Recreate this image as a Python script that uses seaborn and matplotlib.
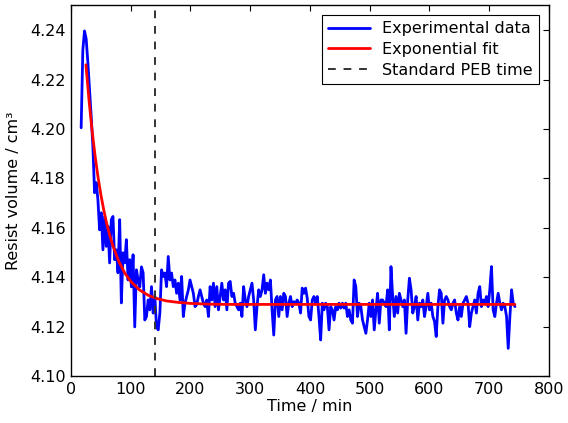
import numpy as np
import pandas as pd
import matplotlib
matplotlib.use("Agg")
import matplotlib.pyplot as plt
import seaborn as sns

# ---- data ----
time_start = 17.0
time_end = 743.0
volume = [
    # 17 -> ~120 min
    4.2005, 4.2320, 4.2397, 4.2365, 4.2270, 4.2160, 4.2050, 4.1930, 4.1742, 4.1783,
    4.1714, 4.1592, 4.1661, 4.1511, 4.1646, 4.1525, 4.1606, 4.1458, 4.1633, 4.1646,
    4.1471, 4.1511, 4.1418, 4.1633, 4.1296, 4.1499, 4.1458, 4.1552, 4.1389, 4.1471,
    4.1361, 4.1491, 4.1199, 4.1430, 4.1389, 4.1361, 4.1442, 4.1418,
    # ~123 -> ~227 min
    4.1227, 4.1241, 4.1308, 4.1268, 4.1362, 4.1255, 4.1322, 4.1200, 4.1187, 4.1255,
    4.1430, 4.1403, 4.1417, 4.1362, 4.1484, 4.1389, 4.1417, 4.1362, 4.1389, 4.1335,
    4.1376, 4.1308, 4.1403, 4.1241, 4.1295, 4.1322, 4.1349, 4.1389, 4.1362, 4.1335,
    4.1281, 4.1290, 4.1322, 4.1349, 4.1322, 4.1295, 4.1281, 4.1308,
    # ~230 -> ~345 min
    4.1241, 4.1362, 4.1308, 4.1376, 4.1281, 4.1362, 4.1268, 4.1322, 4.1376, 4.1308,
    4.1349, 4.1268, 4.1376, 4.1383, 4.1322, 4.1335, 4.1295, 4.1281, 4.1268, 4.1295,
    4.1241, 4.1362, 4.1308, 4.1281, 4.1322, 4.1349, 4.1376, 4.1308, 4.1187, 4.1281,
    4.1349, 4.1322, 4.1349, 4.1410, 4.1335, 4.1376, 4.1349, 4.1389, 4.1268, 4.1166,
    4.1308, 4.1322,
    # ~347 -> ~454 min
    4.1241, 4.1322, 4.1268, 4.1335, 4.1322, 4.1241, 4.1295, 4.1322, 4.1281, 4.1301,
    4.1295, 4.1308, 4.1295, 4.1255, 4.1356, 4.1335, 4.1356, 4.1315, 4.1241, 4.1227,
    4.1308, 4.1322, 4.1295, 4.1322, 4.1241, 4.1146, 4.1295, 4.1268, 4.1295, 4.1281,
    4.1187, 4.1281, 4.1268, 4.1227, 4.1281, 4.1268, 4.1295, 4.1275, 4.1295,
    # ~457 -> ~559 min
    4.1275, 4.1295, 4.1241, 4.1268, 4.1227, 4.1214, 4.1389, 4.1362, 4.1241, 4.1295,
    4.1281, 4.1227, 4.1200, 4.1173, 4.1227, 4.1295, 4.1241, 4.1308, 4.1187, 4.1268,
    4.1335, 4.1214, 4.1308, 4.1308, 4.1295, 4.1281, 4.1349, 4.1187, 4.1443, 4.1322,
    4.1241, 4.1322, 4.1255, 4.1335, 4.1308, 4.1281, 4.1308,
    # ~562 -> ~659 min
    4.1173, 4.1308, 4.1396, 4.1349, 4.1255, 4.1281, 4.1322, 4.1227, 4.1295, 4.1281,
    4.1308, 4.1241, 4.1281, 4.1335, 4.1268, 4.1295, 4.1241, 4.1221, 4.1160, 4.1281,
    4.1349, 4.1335, 4.1214, 4.1308, 4.1322, 4.1308, 4.1281, 4.1268, 4.1295, 4.1308,
    4.1255, 4.1227, 4.1281, 4.1241, 4.1295, 4.1308,
    # ~662 -> 743 min
    4.1322, 4.1295, 4.1200, 4.1255, 4.1281, 4.1308, 4.1255, 4.1335, 4.1362, 4.1281,
    4.1308, 4.1295, 4.1322, 4.1281, 4.1349, 4.1443, 4.1268, 4.1241, 4.1295, 4.1335,
    4.1295, 4.1268, 4.1295, 4.1281, 4.1241, 4.1112, 4.1241, 4.1349, 4.1295, 4.1281,
]

fit_time = [25, 30, 35, 40, 45, 50, 55, 60, 65, 70, 80, 90, 100, 115, 130, 145, 160,
            180, 200, 230, 270, 350, 450, 550, 650, 743]
fit_volume = [4.2260, 4.2120, 4.2000, 4.1897, 4.1809, 4.1734, 4.1670, 4.1615, 4.1568,
              4.1528, 4.1464, 4.1417, 4.1383, 4.1348, 4.1326, 4.1313, 4.1304,
              4.1298, 4.1294, 4.1291, 4.1290, 4.1290, 4.1290, 4.1290, 4.1290, 4.1290]

peb_time = 140

x_ticks = [0, 100, 200, 300, 400, 500, 600, 700, 800]
y_ticks = [4.10, 4.12, 4.14, 4.16, 4.18, 4.20, 4.22, 4.24]

# ---- plotting ----
sns.set_theme(style="white")
plt.rcParams["font.family"] = ["DejaVu Sans"]
plt.rcParams.update({
    "xtick.direction": "in", "ytick.direction": "in",
    "xtick.top": True, "ytick.right": True,
    "xtick.major.size": 4, "ytick.major.size": 4,
    "xtick.major.width": 0.8, "ytick.major.width": 0.8,
    "xtick.color": "black", "ytick.color": "black",
    "xtick.labelcolor": "black", "ytick.labelcolor": "black",
    "text.color": "black", "axes.labelcolor": "black",
    "axes.edgecolor": "black", "axes.linewidth": 1.0,
    "font.size": 11.5,
})

time = np.linspace(time_start, time_end, len(volume))
df_exp = pd.DataFrame({"time": time, "volume": volume})
df_fit = pd.DataFrame({"time": fit_time, "volume": fit_volume})

fig = plt.figure(figsize=(5.68, 4.23), dpi=100)
ax = fig.add_axes([0.125, 0.111, 0.8415, 0.876])

sns.lineplot(data=df_exp, x="time", y="volume", ax=ax, color="#0000ff",
             linewidth=2.0, label="Experimental data", sort=False)
sns.lineplot(data=df_fit, x="time", y="volume", ax=ax, color="#ff0000",
             linewidth=2.0, label="Exponential fit", sort=False)
ax.axvline(peb_time, color="#333333", linestyle="--", linewidth=1.4,
           dashes=(4, 4), label="Standard PEB time")

ax.set_xlim(0, 800)
ax.set_ylim(4.10, 4.25)
ax.set_xticks(x_ticks)
ax.set_yticks(y_ticks)
ax.set_yticklabels([f"{v:.2f}" for v in y_ticks], fontsize=11.5, color="black")
ax.set_xticklabels([str(v) for v in x_ticks], fontsize=11.5, color="black")
ax.tick_params(axis="both", pad=4)
ax.set_xlabel("Time / min", fontsize=11.5, labelpad=2, color="black")
ax.set_ylabel("Resist volume / cm³", fontsize=11.5, labelpad=6, color="black")

leg = ax.legend(loc="upper right", fontsize=11.5, frameon=True, fancybox=False,
                edgecolor="black", framealpha=1, borderaxespad=0.6,
                handlelength=2.6, labelspacing=0.35, borderpad=0.4)
leg.get_frame().set_linewidth(0.8)
for t in leg.get_texts():
    t.set_color("black")
for side in ax.spines.values():
    side.set_visible(True)
    side.set_color("black")

fig.savefig("out.png", dpi=100, facecolor="white")
